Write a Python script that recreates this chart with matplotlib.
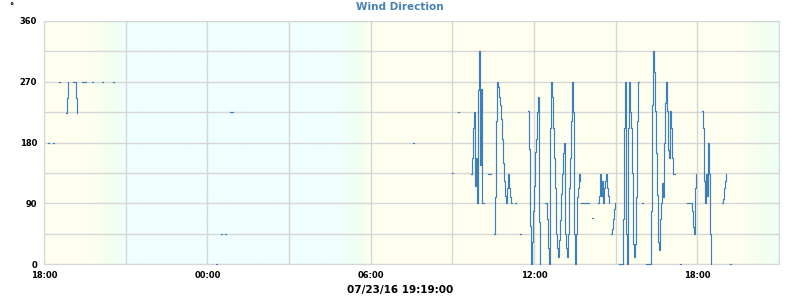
import matplotlib
matplotlib.use("Agg")
import matplotlib.pyplot as plt
import matplotlib.dates as mdates
from matplotlib.ticker import MultipleLocator
import numpy as np
import pandas as pd

# readings come every ~2.2 minutes; each run is a stretch without gaps
SAMPLE_MIN = 2.2

run_starts = [
    "07/22/16 18:09", "07/22/16 18:20", "07/22/16 18:33", "07/22/16 18:48",
    "07/22/16 19:04", "07/22/16 19:24", "07/22/16 19:46", "07/22/16 20:08",
    "07/22/16 20:32", "07/23/16 00:19", "07/23/16 00:30", "07/23/16 00:39",
    "07/23/16 00:50", "07/23/16 07:33", "07/23/16 08:59", "07/23/16 09:12",
    "07/23/16 09:41", "07/23/16 10:19", "07/23/16 10:32", "07/23/16 11:18",
    "07/23/16 11:29", "07/23/16 11:47", "07/23/16 12:24", "07/23/16 13:44",
    "07/23/16 14:08", "07/23/16 14:21", "07/23/16 14:50", "07/23/16 15:07",
    "07/23/16 15:58", "07/23/16 16:07", "07/23/16 17:22", "07/23/16 17:37",
    "07/23/16 18:10", "07/23/16 18:54", "07/23/16 19:12",
]
run_values = [
    [180, 180], [180, 180], [270, 270], [224, 246, 270],
    [270, 270, 270, 246, 224], [270, 270, 270, 270, 270], [270, 270], [270, 270],
    [270, 270], [0, 0], [44, 44], [44, 44],
    [225, 225, 225, 225], [180, 180], [135, 135], [225, 225],
    [134, 157, 201, 225, 115, 157, 90, 258, 315, 147, 260, 90, 90, 90],
    [134, 134, 134, 134],
    [44, 100, 212, 270, 262, 247, 236, 215, 185, 150, 123, 101, 90, 112, 134,
     112, 100, 90, 90],
    [90, 90], [44, 44],
    [226, 170, 57, 0, 33, 78, 115, 166, 185, 225, 247, 62, 0],
    [90, 90, 67, 23, 0, 201, 270, 247, 201, 157, 112, 45, 23, 11, 35, 65, 104,
     134, 164, 179, 45, 23, 11, 45, 112, 157, 212, 270, 225, 45, 0, 45, 100,
     112, 134, 123],
    [90, 90, 90, 90, 90, 90, 90, 90, 90],
    [68, 68],
    [90, 101, 134, 101, 123, 90, 112, 123, 134, 112, 101, 90],
    [44, 52, 67, 81, 90],
    [0, 0, 0, 0, 67, 201, 270, 45, 0, 201, 270, 225, 201, 135, 30, 10, 30, 100,
     212, 270, 270],
    [90, 90],
    [0, 0, 0, 0, 0, 78, 236, 315, 285, 226, 164, 102, 33, 21, 67, 90, 120, 100,
     179, 238, 269, 226, 169, 157, 226, 201, 157, 134, 134, 134],
    [0, 0],
    [90, 90, 90, 90, 90, 78, 55, 44, 112, 134],
    [226, 201, 123, 90, 134, 101, 179, 134, 44, 0],
    [90, 96, 112, 123, 134],
    [0, 0],
]

# background: daylight / night shading
sky_times = ["07/22/16 18:00", "07/22/16 19:40", "07/22/16 20:35", "07/22/16 21:00",
             "07/23/16 04:52", "07/23/16 05:35", "07/23/16 06:03",
             "07/23/16 19:35", "07/23/16 20:30", "07/23/16 21:00"]
ivory = (255, 255, 240)
honeydew = (240, 255, 240)
azure = (240, 255, 255)
sky_colors = [ivory, ivory, honeydew, azure, azure, honeydew, ivory,
              ivory, honeydew, (240, 255, 248)]

title = "Wind Direction"
xlabel = "07/23/16 19:19:00"
t_start = pd.Timestamp("2016-07-22 18:00")
t_end = pd.Timestamp("2016-07-23 21:00")

line_color = "#3d7fba"
grid_color = "#d6d6d6"

fig = plt.figure(figsize=(8, 3), dpi=100)
ax = fig.add_axes([44 / 800, 1 - 264 / 300, 735 / 800, 243 / 300])

# gradient image
grid_t = pd.date_range(t_start, t_end, freq="1min")
sky_num = mdates.date2num(pd.to_datetime(sky_times, format="%m/%d/%y %H:%M"))
grid_num = mdates.date2num(grid_t)
rgb = np.stack([np.interp(grid_num, sky_num, [c[i] for c in sky_colors]) for i in range(3)],
               axis=-1) / 255.0
ax.imshow(rgb[np.newaxis, :, :], aspect="auto", zorder=0,
          extent=[mdates.date2num(t_start), mdates.date2num(t_end), 0, 360])

for start, vals in zip(run_starts, run_values):
    t0 = pd.to_datetime(start, format="%m/%d/%y %H:%M")
    times = t0 + pd.to_timedelta(np.arange(len(vals)) * SAMPLE_MIN, unit="min")
    ax.plot(times, vals, drawstyle="steps-post", color=line_color, lw=0.85,
            zorder=3, clip_on=False)

ax.set_xlim(t_start, t_end)
ax.set_ylim(0, 360)
ax.xaxis.set_major_locator(mdates.HourLocator(byhour=[0, 6, 12, 18]))
ax.xaxis.set_major_formatter(mdates.DateFormatter("%H:%M"))
ax.xaxis.set_minor_locator(mdates.HourLocator(byhour=range(0, 24, 3)))
ax.yaxis.set_major_locator(MultipleLocator(90))
ax.yaxis.set_minor_locator(MultipleLocator(45))
ax.grid(True, which="both", color=grid_color, lw=1, zorder=1)
for line in ax.get_xgridlines() + ax.get_ygridlines():
    line.set_zorder(1)
ax.tick_params(which="both", length=0)
ax.tick_params(axis="x", pad=5, labelsize=6)
ax.tick_params(axis="y", pad=5, labelsize=6)
for lab in ax.get_xticklabels() + ax.get_yticklabels():
    lab.set_fontweight("bold")
for sp in ax.spines.values():
    sp.set_color(grid_color)
    sp.set_zorder(2)

fig.text(0.5, 1 - 7 / 300, title, ha="center", va="center", color="#4682b4",
         fontsize=7.5, fontweight="bold")
fig.text(0.5, 1 - 290 / 300, xlabel, ha="center", va="center", fontsize=7.5,
         fontweight="bold")
fig.text(11 / 800, 1 - 7 / 300, "°", ha="center", va="center", fontsize=6,
         fontweight="bold")

fig.savefig("out.png", dpi=100)
